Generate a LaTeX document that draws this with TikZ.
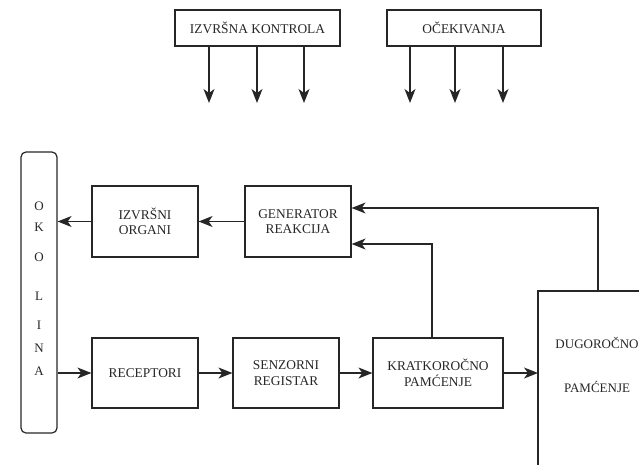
\documentclass[tikz,border=0pt]{standalone}
\usepackage{fontspec}
\setmainfont{Liberation Serif}
\usetikzlibrary{arrows.meta}
\definecolor{ink}{HTML}{262626}
\tikzset{
  blk/.style={draw=ink, line width=1.2pt, rectangle, inner sep=0pt, text=ink, align=center, font=\fontsize{13.4}{15.5}\selectfont},
  conn/.style={draw=ink, line width=1.2pt, -{Stealth[length=14pt,width=11pt,inset=4pt]}},
  letter/.style={text=ink, font=\fontsize{13}{14}\selectfont, inner sep=0pt}
}
\begin{document}
\begin{tikzpicture}[x=1pt,y=-1pt]
\useasboundingbox (0,0) rectangle (639,465);
% top boxes
\node[blk, minimum width=165pt, minimum height=36pt] (ik) at (257.5,28) {IZVRŠNA KONTROLA};
\node[blk, minimum width=154pt, minimum height=36pt] (oc) at (464,28) {OČEKIVANJA};
\foreach \x/\n in {209/a,257/b,304/c}{
  \coordinate (ik\n) at (\x,103);
  \draw[conn] (ik.south -| ik\n) -- (ik\n);
}
\foreach \x/\n in {410/a,455/b,503/c}{
  \coordinate (oc\n) at (\x,103);
  \draw[conn] (oc.south -| oc\n) -- (oc\n);
}
% okolina
\node[draw=ink, line width=1.2pt, rounded corners=5pt, minimum width=36pt, minimum height=281pt, inner sep=0pt] (ok) at (39,292.5) {};
\foreach \ch/\y in {O/206,K/227,O/257,L/296,I/325,N/348,A/371}{
  \node[letter] at (39,\y) {\ch};
}
% upper row
\node[blk, minimum width=106pt, minimum height=71pt] (io) at (145,221.5) {IZVRŠNI\\ORGANI};
\node[blk, minimum width=106pt, minimum height=71pt] (gr) at (298,221.5) {GENERATOR\\REAKCIJA};
% lower row
\node[blk, minimum width=106pt, minimum height=70pt] (re) at (145,373) {RECEPTORI};
\node[blk, minimum width=106pt, minimum height=70pt] (se) at (286,373) {SENZORNI\\REGISTAR};
\node[blk, minimum width=130pt, minimum height=70pt] (kr) at (438,373) {KRATKOROČNO\\PAMĆENJE};
% long-term memory (clipped)
\node[text=ink, align=center, font=\fontsize{13}{15.5}\selectfont, inner sep=0pt] (dug) at (597,365) {DUGOROČNO\\[29pt]PAMĆENJE};
\coordinate (dtl) at (538,291);
\draw[draw=ink, line width=1.2pt] (538,466) -- (dtl) -- (640,291);
% connectors
\draw[conn] (gr.west) -- (io.east);
\draw[conn] (io.west) -- (ok.east |- io.west);
\draw[conn] (ok.east |- re.west) -- (re.west);
\draw[conn] (re.east) -- (se.west);
\draw[conn] (se.east) -- (kr.west);
\draw[conn] (kr.east) -- (538,373);
\coordinate (kup) at (432,244);
\draw[conn] (kr.north -| kup) -- (kup) -- (gr.east |- kup);
\coordinate (dup) at (598,208);
\draw[conn] (dtl -| dup) -- (dup) -- (gr.east |- dup);
\end{tikzpicture}
\end{document}
